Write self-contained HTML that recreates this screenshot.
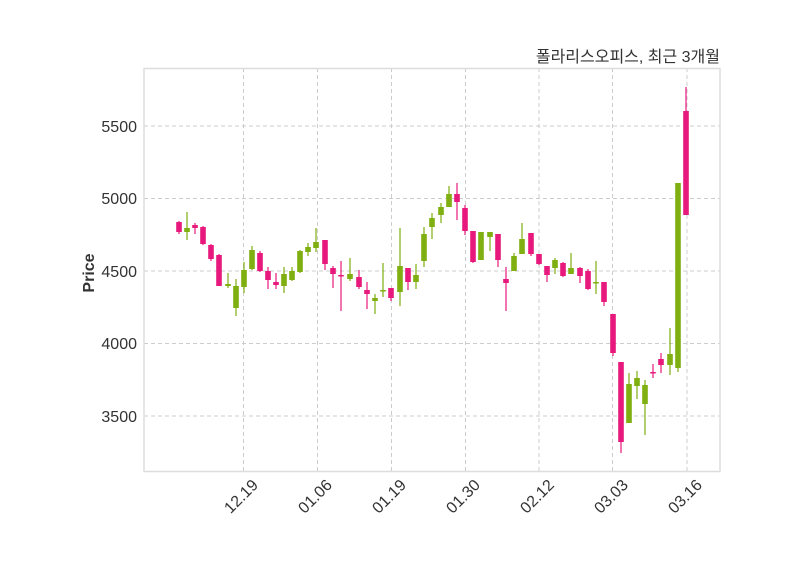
<!DOCTYPE html>
<html><head><meta charset="utf-8"><style>
body{margin:0;background:#fff;width:800px;height:575px;overflow:hidden}
text{font-family:"Liberation Sans","Noto Sans CJK KR",sans-serif;fill:#333}
</style></head><body>
<svg id="s" width="800" height="575" xmlns="http://www.w3.org/2000/svg">
<rect x="0" y="0" width="800" height="575" fill="#fff"/>
<g stroke="#ccc" stroke-width="1" stroke-dasharray="4,3">
<line x1="144" x2="720" y1="126" y2="126"/><line x1="144" x2="720" y1="198.5" y2="198.5"/>
<line x1="144" x2="720" y1="271" y2="271"/><line x1="144" x2="720" y1="343.5" y2="343.5"/>
<line x1="144" x2="720" y1="416" y2="416"/>
<line y1="68" y2="471" x1="243.5" x2="243.5"/><line y1="68" y2="471" x1="317.5" x2="317.5"/>
<line y1="68" y2="471" x1="391.5" x2="391.5"/><line y1="68" y2="471" x1="465.5" x2="465.5"/>
<line y1="68" y2="471" x1="539" x2="539"/><line y1="68" y2="471" x1="612.5" x2="612.5"/>
<line y1="68" y2="471" x1="687" x2="687"/>
</g>
<rect x="144" y="68.5" width="576" height="403" fill="none" stroke="#ddd" stroke-width="1.5"/>
<g id="c"></g>
<g font-size="16" text-anchor="end">
<text x="137" y="132">5500</text><text x="137" y="204">5000</text><text x="137" y="277">4500</text>
<text x="137" y="349">4000</text><text x="137" y="422">3500</text>
</g>
<text transform="translate(94,273) rotate(-90)" font-size="16" font-weight="bold" text-anchor="middle">Price</text>
<g font-size="16" text-anchor="end">
<text transform="translate(259,486) rotate(-45)">12.19</text>
<text transform="translate(333,486) rotate(-45)">01.06</text>
<text transform="translate(407,486) rotate(-45)">01.19</text>
<text transform="translate(481,486) rotate(-45)">01.30</text>
<text transform="translate(555,486) rotate(-45)">02.12</text>
<text transform="translate(629,486) rotate(-45)">03.03</text>
<text transform="translate(703,486) rotate(-45)">03.16</text>
</g>
<text x="720" y="62" font-size="16" text-anchor="end">폴라리스오피스, 최근 3개월</text>
</svg>
<script>
var P="#e8197d",G="#7faf10";
var d=[[179,P,222,232,221,234],[187,G,228,232,212,240],[195,P,225,228,223,234],[203,P,227,244,226,245],
[211,P,245,259,244,261],[219,P,255,286,254,286],[228,G,284,286,273,288],[236,G,286,308,279,316],
[244,G,270,287,262,293],[252,G,250,269,246,270],[260,P,253,271,251,272],[268,P,271,280,267,289],
[276,P,282,285,273,289],[284,G,274,286,267,293],[292,G,271,280,267,281],[300,G,251,272,250,273],
[308,G,247,252,243,256],[316,G,242,248,228,252],[325,P,240,264,240,270],[333,P,268,274,266,288],
[341,P,275,276,261,311],[350,G,274,279,258,281],[359,P,277,287,270,289],[367,P,290,294,282,309],
[375,G,298,301,294,314],[383,G,290,291,263,297],[391,P,288,298,288,301],[400,G,266,292,228,306],
[408,P,268,282,268,290],[416,G,275,282,264,289],[424,G,234,261,227,267],[432,G,218,227,213,239],
[441,G,207,215,203,223],[449,G,194,207,186,207],[457,P,194,202,183,220],[465,P,208,231,205,235],
[473,P,231,262,231,263],[481,G,232,260,232,260],[490,G,232,237,232,251],[498,P,234,260,234,267],
[506,P,279,283,267,311],[514,G,256,271,253,271],[522,G,239,254,223,254],[531,P,233,254,233,256],
[539,P,254,264,254,265],[547,P,266,275,266,282],[555,G,260,268,258,274],[563,P,263,276,262,277],
[571,G,268,274,253,274],[580,P,268,276,267,283],[588,P,271,289,269,290],[596,G,282,283,261,294],
[604,P,282,302,282,306],[613,P,314,353,314,356],[621,P,362,442,362,453],[629,G,384,423,373,423],
[637,G,378,386,371,399],[645,G,385,404,380,435],[653,P,372,373,364,378],[661,P,359,365,353,373],
[670,G,354,365,328,375],[678,G,183,368,183,372],[686,P,111,215,87,215]];
var h="";d.forEach(function(a){
h+='<line x1="'+a[0]+'" x2="'+a[0]+'" y1="'+a[4]+'" y2="'+a[5]+'" stroke="'+a[1]+'" stroke-width="1.2"/>';
h+='<rect x="'+(a[0]-2.8)+'" y="'+a[2]+'" width="5.6" height="'+Math.max(1.5,a[3]-a[2])+'" fill="'+a[1]+'"/>';});
document.getElementById("c").innerHTML=h;
</script>
</body></html>
